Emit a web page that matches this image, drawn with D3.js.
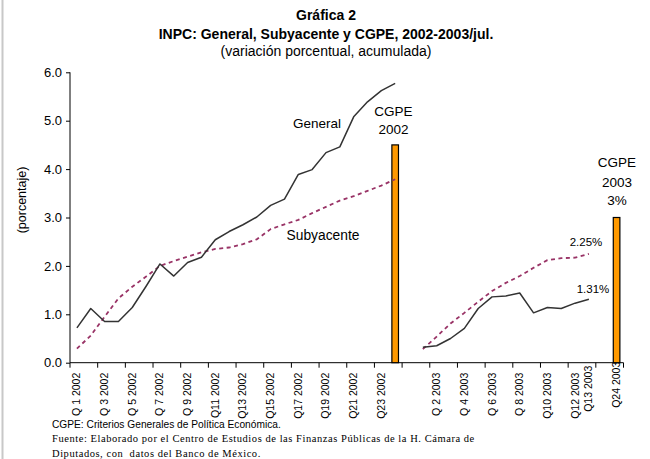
<!DOCTYPE html>
<html><head><meta charset="utf-8">
<script src="https://cdn.jsdelivr.net/npm/d3@7"></script>
<style>body{margin:0;background:#fff}svg{display:block}text{font-family:"Liberation Sans",Arial,sans-serif}</style>
</head><body><svg id="c" width="650" height="459"></svg>
<script>
// ---- data ----
const categories = [
 "Q 1 2002","Q 2 2002","Q 3 2002","Q 4 2002","Q 5 2002","Q 6 2002","Q 7 2002","Q 8 2002",
 "Q 9 2002","Q10 2002","Q11 2002","Q12 2002","Q13 2002","Q14 2002","Q15 2002","Q16 2002",
 "Q17 2002","Q18 2002","Q19 2002","Q20 2002","Q21 2002","Q22 2002","Q23 2002","Q24 2002",
 "",
 "Q 1 2003","Q 2 2003","Q 3 2003","Q 4 2003","Q 5 2003","Q 6 2003","Q 7 2003","Q 8 2003",
 "Q 9 2003","Q10 2003","Q11 2003","Q12 2003","Q13 2003",
 "",
 "Q24 2003"];
const shownLabels = ["Q 1 2002","Q 3 2002","Q 5 2002","Q 7 2002","Q 9 2002","Q11 2002","Q13 2002",
 "Q15 2002","Q17 2002","Q19 2002","Q21 2002","Q23 2002",
 "Q 2 2003","Q 4 2003","Q 6 2003","Q 8 2003","Q10 2003","Q12 2003","Q13 2003","Q24 2003"];
const general2002 = [0.72,1.12,0.85,0.85,1.14,1.58,2.04,1.79,2.07,2.18,2.54,2.71,2.85,3.01,3.25,3.38,3.89,3.99,4.34,4.46,5.08,5.39,5.62,5.77];
const subyacente2002 = [0.29,0.56,0.95,1.33,1.57,1.78,2.00,2.10,2.19,2.28,2.35,2.38,2.45,2.55,2.76,2.86,2.95,3.09,3.22,3.35,3.44,3.55,3.66,3.79];
const general2003 = [0.32,0.35,0.50,0.71,1.12,1.36,1.38,1.44,1.03,1.14,1.12,1.23,1.31];
const subyacente2003 = [0.28,0.54,0.81,1.03,1.26,1.48,1.65,1.79,1.96,2.12,2.16,2.17,2.25];
const cgpeCats = ["Q24 2002","Q24 2003"];
const cgpeValues = [4.5,3.0];
const yTicks = [0,1,2,3,4,5,6];

// ---- chart ----
const svg = d3.select("#c");
const x = d3.scaleBand().domain(categories.map((c,i)=>i)).range([70,623.5]).paddingInner(0).paddingOuter(0);
const y = d3.scaleLinear().domain([0,6]).range([362.7,72.3]);
const cx = i => x(i) + x.bandwidth()/2;

// frame line at left
svg.append("line").attr("x1",2.5).attr("x2",2.5).attr("y1",0).attr("y2",459).attr("stroke","#c8c8c8").attr("stroke-width",2);

// titles
const tt = svg.append("g").attr("text-anchor","middle").attr("fill","#000");
tt.append("text").attr("x",326).attr("y",19.5).attr("font-size",14).attr("font-weight","bold").text("Gráfica 2");
tt.append("text").attr("x",326).attr("y",38.5).attr("font-size",14).attr("font-weight","bold").text("INPC: General, Subyacente y CGPE, 2002-2003/jul.");
tt.append("text").attr("x",326).attr("y",56).attr("font-size",14).text("(variación porcentual, acumulada)");

// y axis
const yAxis = d3.axisLeft(y).tickValues(yTicks).tickFormat(d3.format(".1f")).tickSize(4).tickPadding(4);
const gy = svg.append("g").attr("transform","translate(70,0)").call(yAxis);
gy.select(".domain").attr("d","M0,"+y(6)+"V"+y(0)).attr("stroke","#000");
gy.selectAll("text").attr("font-size",13).attr("font-family","Liberation Sans, Arial, sans-serif").attr("fill","#000");
svg.append("text").attr("transform","translate(26,200) rotate(-90)").attr("text-anchor","middle").attr("font-size",12.5).text("(porcentaje)");

// x axis
const tickIdx = d3.range(0,41,2);
const gx = svg.append("g");
gx.append("line").attr("x1",70).attr("x2",623.5).attr("y1",y(0)).attr("y2",y(0)).attr("stroke","#000");
gx.selectAll("line.t").data(tickIdx).join("line").attr("class","t")
  .attr("x1",d=>70+d*x.bandwidth()).attr("x2",d=>70+d*x.bandwidth())
  .attr("y1",y(0)).attr("y2",y(0)+5).attr("stroke","#000");
const labOffset = {"Q13 2003":-7,"Q24 2003":-11};
gx.selectAll("text").data(shownLabels).join("text")
  .attr("transform",d=>{const i=categories.indexOf(d);return "translate("+(cx(i)+3.5)+","+(y(0)+10+(labOffset[d]||0))+") rotate(-90)";})
  .attr("text-anchor","end").attr("font-size",10.5).attr("fill","#000").text(d=>d);

// bars
svg.selectAll("rect.cgpe").data(cgpeCats).join("rect").attr("class","cgpe")
  .attr("x",(d,i)=>cx(categories.indexOf(d))-3.3).attr("width",6.6)
  .attr("y",(d,i)=>y(cgpeValues[i])).attr("height",(d,i)=>y(0)-y(cgpeValues[i]))
  .attr("fill","#FF9900").attr("stroke","#000").attr("stroke-width",1.2);

// lines
const i02 = categories.indexOf("Q 1 2002"), i03 = categories.indexOf("Q 1 2003");
const line = d3.line().x(d=>cx(d[0])).y(d=>y(d[1]));
function drawLine(vals,start,opts){
  svg.append("path").datum(vals.map((v,k)=>[start+k,v])).attr("d",line)
    .attr("fill","none").attr("stroke",opts.c).attr("stroke-width",opts.w)
    .attr("stroke-dasharray",opts.dash||null).attr("stroke-linejoin","round");
}
drawLine(subyacente2002,i02,{c:"#993366",w:1.8,dash:"4,3.5"});
drawLine(subyacente2003,i03,{c:"#993366",w:1.8,dash:"4,3.5"});
drawLine(general2002,i02,{c:"#333333",w:1.5});
drawLine(general2003,i03,{c:"#333333",w:1.5});

// annotations
const an = svg.append("g").attr("fill","#000").attr("text-anchor","middle");
an.append("text").attr("x",317).attr("y",128).attr("font-size",13.5).text("General");
an.append("text").attr("x",323).attr("y",240).attr("font-size",13.8).text("Subyacente");
an.append("text").attr("x",393.5).attr("y",116).attr("font-size",13.5).text("CGPE");
an.append("text").attr("x",393.5).attr("y",134).attr("font-size",13.5).text("2002");
an.append("text").attr("x",617).attr("y",167).attr("font-size",13.5).text("CGPE");
an.append("text").attr("x",617).attr("y",187).attr("font-size",13.5).text("2003");
an.append("text").attr("x",617).attr("y",205).attr("font-size",13.5).text("3%");
an.append("text").attr("x",586).attr("y",246).attr("font-size",11.5).text("2.25%");
an.append("text").attr("x",593).attr("y",293).attr("font-size",11.5).text("1.31%");

// footer
svg.append("text").attr("x",52).attr("y",428).attr("font-size",10.2).text("CGPE: Criterios Generales de Política Económica.");
const ft = svg.append("g").attr("font-size",10.5).attr("letter-spacing",0.55);
ft.append("text").attr("x",52).attr("y",442).style("font-family","'Liberation Serif','Times New Roman',serif").text("Fuente: Elaborado por el Centro de Estudios de las Finanzas Públicas de la H. Cámara de");
ft.append("text").attr("x",52).attr("y",457).style("font-family","'Liberation Serif','Times New Roman',serif").style("white-space","pre").text("Diputados, con  datos del Banco de México.");
</script></body></html>
